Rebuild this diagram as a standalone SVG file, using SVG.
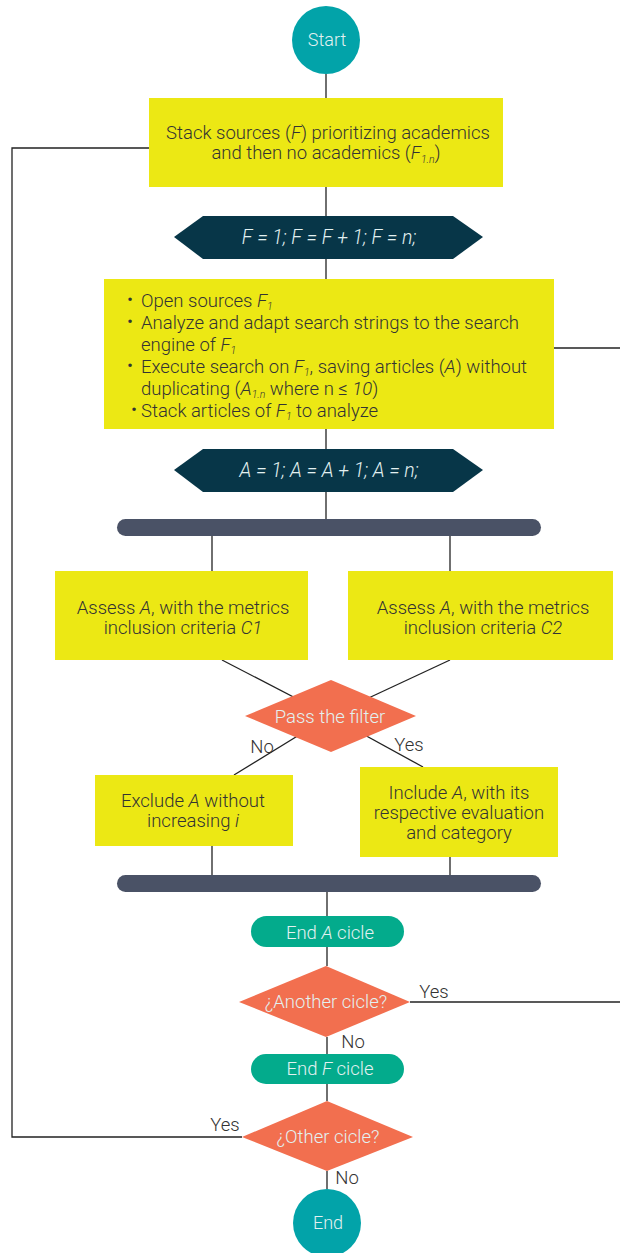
<svg xmlns="http://www.w3.org/2000/svg" width="620" height="1253" viewBox="0 0 620 1253">
<style>
  text { font-family: Roboto, "Liberation Sans", sans-serif; font-weight: 300; font-size: 18.5px; }
  .dark { fill: #333333; }
  .light { fill: #e3f1f1; }
  .c { text-anchor: middle; }
  .i { font-style: italic; }
  .sub { font-size: 10.5px; font-style: italic; }
  .hx { font-size: 19.5px; }
  .sm { font-size: 18px; }
  .box { fill: #ece814; }
  .hex { fill: #073648; }
  .bar { fill: #4a5266; }
  .circ { fill: #02a3a9; }
  .pill { fill: #03ab8c; }
  .dia { fill: #f26f4f; }
  .conn line, .conn polyline { stroke: #222222; stroke-width: 1.3; fill: none; }
</style>
<rect width="620" height="1253" fill="#ffffff"/>
<g class="conn">
  <line x1="326" y1="74" x2="326" y2="98"/>
  <line x1="326" y1="187" x2="326" y2="216"/>
  <line x1="326" y1="259" x2="326" y2="279"/>
  <line x1="326" y1="429" x2="326" y2="449"/>
  <line x1="326" y1="492" x2="326" y2="520"/>
  <line x1="212" y1="536" x2="212" y2="571"/>
  <line x1="450" y1="536" x2="450" y2="571"/>
  <line x1="222" y1="660" x2="330" y2="716"/>
  <line x1="450" y1="660" x2="330" y2="716"/>
  <line x1="330" y1="716" x2="234" y2="775"/>
  <line x1="330" y1="716" x2="423" y2="767"/>
  <line x1="212" y1="846" x2="212" y2="876"/>
  <line x1="450" y1="857" x2="450" y2="876"/>
  <line x1="327" y1="892" x2="327" y2="916"/>
  <line x1="327" y1="947" x2="327" y2="966"/>
  <line x1="327" y1="1037" x2="327" y2="1054"/>
  <line x1="327" y1="1084" x2="327" y2="1101"/>
  <line x1="327" y1="1171" x2="327" y2="1189"/>
  <line x1="410" y1="1002" x2="620" y2="1002"/>
  <line x1="554" y1="348" x2="620" y2="348"/>
  <polyline points="149,148 12,148 12,1137 242,1137"/>
</g>
<g id="start">
  <circle class="circ" cx="326" cy="40" r="34"/>
  <text class="light c sm" x="327" y="46">Start</text>
</g>
<g id="stack-sources">
  <rect class="box" x="149" y="98" width="354" height="89"/>
  <text class="dark c"><tspan x="328" y="139">Stack sources (<tspan class="i">F</tspan>) prioritizing academics</tspan><tspan x="326" y="159">and then no academics (<tspan class="i">F</tspan><tspan class="sub" dy="3.5">1.n</tspan><tspan dy="-3.5">)</tspan></tspan></text>
</g>
<g id="loop-f">
  <polygon class="hex" points="174,237 203,216 453,216 483,237 453,259 203,259"/>
  <text class="light c i hx" x="329" y="244">F = 1; F = F + 1; F = n;</text>
</g>
<g id="search">
  <rect class="box" x="104" y="279" width="450" height="150"/>
  <text class="dark"><tspan x="127" y="306">•</tspan><tspan x="141" y="307">Open sources <tspan class="i">F</tspan><tspan class="sub" dy="2.5">1</tspan></tspan><tspan x="127" y="328">•</tspan><tspan x="141" y="329">Analyze and adapt search strings to the search</tspan><tspan x="141" y="351">engine of <tspan class="i">F</tspan><tspan class="sub" dy="2.5">1</tspan></tspan><tspan x="127" y="372">•</tspan><tspan x="141" y="373">Execute search on <tspan class="i">F</tspan><tspan class="sub" dy="2.5">1</tspan><tspan dy="-2.5">, saving articles (</tspan><tspan class="i">A</tspan>) without</tspan><tspan x="141" y="395">duplicating (<tspan class="i">A</tspan><tspan class="sub" dy="2.5">1.n</tspan><tspan dy="-2.5"> where n ≤ </tspan><tspan class="i">10</tspan>)</tspan><tspan x="131" y="416">•</tspan><tspan x="141" y="417">Stack articles of <tspan class="i">F</tspan><tspan class="sub" dy="2.5">1</tspan><tspan dy="-2.5"> to analyze</tspan></tspan></text>
</g>
<g id="loop-a">
  <polygon class="hex" points="174,470 203,449 453,449 483,470 453,492 203,492"/>
  <text class="light c i hx" x="329" y="477">A = 1; A = A + 1; A = n;</text>
</g>
<g id="fork">
  <rect class="bar" x="117" y="519" width="424" height="17" rx="8.5"/>
</g>
<g id="assess-c1">
  <rect class="box" x="55" y="571" width="253" height="89"/>
  <text class="dark c"><tspan x="183" y="614">Assess <tspan class="i">A</tspan>, with the metrics</tspan><tspan x="183" y="634">inclusion criteria <tspan class="i">C1</tspan></tspan></text>
</g>
<g id="assess-c2">
  <rect class="box" x="348" y="571" width="265" height="89"/>
  <text class="dark c"><tspan x="483" y="614">Assess <tspan class="i">A</tspan>, with the metrics</tspan><tspan x="483" y="634">inclusion criteria <tspan class="i">C2</tspan></tspan></text>
</g>
<g id="filter">
  <polygon class="dia" points="245,716 331,680 416,716 331,752"/>
  <text class="light c" x="330" y="723">Pass the filter</text>
  <text class="dark c" x="262" y="753">No</text>
  <text class="dark c" x="409" y="751">Yes</text>
</g>
<g id="exclude">
  <rect class="box" x="95" y="775" width="198" height="71"/>
  <text class="dark c"><tspan x="193" y="807">Exclude <tspan class="i">A</tspan> without</tspan><tspan x="193" y="827">increasing <tspan class="i">i</tspan></tspan></text>
</g>
<g id="include">
  <rect class="box" x="360" y="767" width="198" height="90"/>
  <text class="dark c"><tspan x="459" y="799">Include <tspan class="i">A</tspan>, with its</tspan><tspan x="459" y="819">respective evaluation</tspan><tspan x="459" y="839">and category</tspan></text>
</g>
<g id="join">
  <rect class="bar" x="117" y="875" width="424" height="17" rx="8.5"/>
</g>
<g id="end-a">
  <rect class="pill" x="251" y="916" width="153" height="31" rx="15.5"/>
  <text class="light c" x="330" y="939">End <tspan class="i">A</tspan> cicle</text>
</g>
<g id="another">
  <polygon class="dia" points="239,1002 326,966 410,1002 326,1037"/>
  <text class="light c" x="326" y="1008">¿Another cicle?</text>
  <text class="dark c" x="434" y="998">Yes</text>
  <text class="dark c" x="353" y="1048">No</text>
</g>
<g id="end-f">
  <rect class="pill" x="251" y="1054" width="153" height="30" rx="15"/>
  <text class="light c" x="330" y="1075">End <tspan class="i">F</tspan> cicle</text>
</g>
<g id="other">
  <polygon class="dia" points="242,1137 327,1101 413,1137 327,1171"/>
  <text class="light c" x="328" y="1143">¿Other cicle?</text>
  <text class="dark c" x="225" y="1131">Yes</text>
  <text class="dark c" x="347" y="1184">No</text>
</g>
<g id="end">
  <circle class="circ" cx="327" cy="1223" r="34"/>
  <text class="light c sm" x="328" y="1229">End</text>
</g>
</svg>
